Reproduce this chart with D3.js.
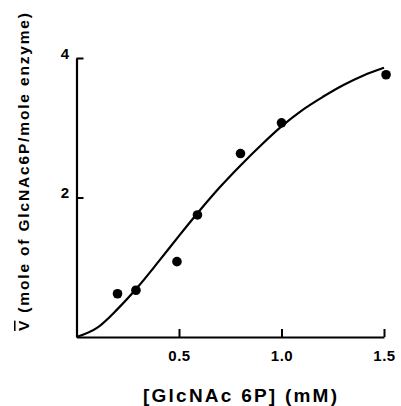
<!DOCTYPE html>
<html>
<head>
<meta charset="utf-8">
<script src="https://cdn.jsdelivr.net/npm/d3@7"></script>
<style>
  html, body { margin: 0; padding: 0; background: #fff; }
  svg { display: block; }
  text { font-family: "Liberation Sans", Arial, sans-serif; fill: #000; }
</style>
</head>
<body>
<svg id="chart" width="401" height="406"></svg>
<script>
// Measured binding: [GlcNAc6P] (mM) vs moles bound per mole enzyme
const conc = [0.2, 0.29, 0.49, 0.59, 0.8, 1.0, 1.51];
const bound = [0.62, 0.67, 1.08, 1.75, 2.63, 3.07, 3.76];

// Fitted saturation curve, sampled along x
const fitX = [0, 0.1, 0.2, 0.3, 0.4, 0.5, 0.6, 0.7, 0.8, 0.9, 1.0, 1.1, 1.2, 1.3, 1.4, 1.5];
const fitY = [0, 0.13, 0.40, 0.72, 1.08, 1.45, 1.81, 2.15, 2.46, 2.75, 3.02, 3.25, 3.44, 3.61, 3.75, 3.86];

const xTicks = [0.5, 1.0, 1.5];
const yTicks = [2, 4];

const svg = d3.select("#chart");

const x = d3.scaleLinear().domain([0, 1.5]).range([76.5, 384]);
const y = d3.scaleLinear().domain([0, 4]).range([337, 58]);

// X axis
const xAxis = svg.append("g")
  .attr("transform", `translate(0,${y(0)})`)
  .call(d3.axisBottom(x).tickValues(xTicks).tickSizeInner(-8).tickSizeOuter(0)
    .tickPadding(13).tickFormat(d3.format(".1f")));

// Y axis
const yAxis = svg.append("g")
  .attr("transform", `translate(${x(0)},0)`)
  .call(d3.axisLeft(y).tickValues(yTicks).tickSizeInner(-7).tickSizeOuter(0)
    .tickPadding(8).tickFormat(d3.format("d")));

[xAxis, yAxis].forEach(g => {
  g.select(".domain").attr("stroke", "#000").attr("stroke-width", 2.2);
  g.selectAll(".tick line").attr("stroke", "#000").attr("stroke-width", 2);
  g.selectAll(".tick text")
    .style("font-family", "'Liberation Sans', Arial, sans-serif")
    .style("font-size", "15px")
    .style("font-weight", "bold")
    .style("letter-spacing", "0.5px")
    .attr("fill", "#000");
});
yAxis.selectAll(".tick text").attr("dy", "0").attr("x", -7);

// Fitted curve
const line = d3.line()
  .x((d, i) => x(fitX[i]))
  .y(d => y(d))
  .curve(d3.curveMonotoneX);

svg.append("path")
  .datum(fitY)
  .attr("d", line)
  .attr("fill", "none")
  .attr("stroke", "#000")
  .attr("stroke-width", 2.2);

// Data points
svg.append("g").selectAll("circle")
  .data(conc)
  .join("circle")
  .attr("cx", d => x(d))
  .attr("cy", (d, i) => y(bound[i]))
  .attr("r", 4.8)
  .attr("fill", "#000");

// X title
svg.append("text")
  .attr("x", 240)
  .attr("y", 402)
  .attr("text-anchor", "middle")
  .attr("textLength", 194)
  .attr("lengthAdjust", "spacing")
  .style("font-size", "19px")
  .style("font-weight", "bold")
  .text("[GlcNAc 6P] (mM)");

// Y title (rotated)
const yt = svg.append("text")
  .attr("transform", "translate(29,172) rotate(-90)")
  .attr("text-anchor", "middle")
  .attr("textLength", 318)
  .attr("lengthAdjust", "spacing")
  .style("font-size", "15.5px")
  .style("font-weight", "bold");
yt.append("tspan").style("text-decoration", "overline").text("V");
yt.append("tspan").text(" (mole  of  GlcNAc6P/mole  enzyme)");
</script>
</body>
</html>
